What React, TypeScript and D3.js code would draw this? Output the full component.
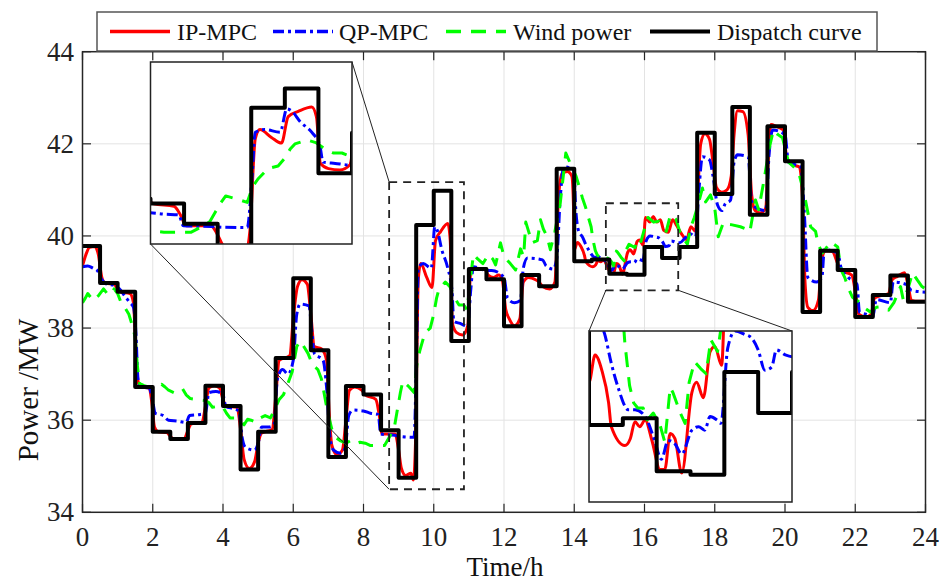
import React from 'react';
import * as d3 from 'd3';

const W = 941;
const H = 583;

const xTicks = [0, 2, 4, 6, 8, 10, 12, 14, 16, 18, 20, 22, 24];
const yTicks = [34, 36, 38, 40, 42, 44];
const legendLabels = ['IP-MPC', 'QP-MPC', 'Wind power', 'Dispatch curve'];

const dispatchTimes = [0, 0.5, 1, 1.5, 2, 2.5, 3, 3.5, 4, 4.5, 5, 5.5, 6, 6.5, 7, 7.5, 8, 8.5, 9, 9.5, 10, 10.5, 11, 11.5, 12, 12.5, 13, 13.5, 14, 14.5, 15, 15.5, 16, 16.5, 17, 17.5, 18, 18.5, 19, 19.5, 20, 20.5, 21, 21.5, 22, 22.5, 23, 23.5, 24];
const dispatchValues = [39.78, 38.98, 38.79, 36.72, 35.75, 35.59, 35.94, 36.75, 36.31, 34.93, 35.75, 37.35, 39.08, 37.52, 35.2, 36.74, 36.56, 35.78, 34.75, 40.24, 40.98, 37.72, 39.28, 39.06, 38.04, 39.15, 38.91, 41.46, 39.45, 39.49, 39.18, 39.16, 39.76, 39.52, 39.76, 42.24, 40.91, 42.8, 40.46, 42.38, 41.62, 38.35, 39.68, 39.26, 38.24, 38.72, 39.14, 38.57, 38.57];

const ipMpc: [number, number][] = [
  [0, 39.35], [0.1, 39.6], [0.2, 39.75], [0.35, 39.77], [0.45, 39.6], [0.55, 39.1], [0.65, 38.97], [0.9, 38.95], [1.0, 38.85], [1.1, 38.78], [1.35, 38.75], [1.45, 38.55], [1.52, 37.5], [1.58, 36.85], [1.65, 36.72], [1.9, 36.7],
  [1.97, 36.4], [2.05, 35.85], [2.15, 35.75], [2.4, 35.73], [2.5, 35.65], [2.6, 35.58], [2.9, 35.6], [3.0, 35.78], [3.1, 35.92], [3.4, 35.95], [3.5, 36.3], [3.6, 36.7], [3.75, 36.75], [3.9, 36.7], [4.0, 36.45], [4.1, 36.3],
  [4.4, 36.28], [4.5, 35.8], [4.6, 35.15], [4.75, 34.95], [4.9, 35.1], [5.0, 35.5], [5.1, 35.72], [5.4, 35.8], [5.5, 36.5], [5.6, 37.3], [5.9, 37.4], [6.0, 38.2], [6.12, 38.9], [6.25, 39.05], [6.4, 38.95], [6.5, 38.3],
  [6.6, 37.6], [6.8, 37.55], [6.95, 37.3], [7.02, 36.2], [7.1, 35.45], [7.25, 35.25], [7.4, 35.35], [7.5, 36.0], [7.6, 36.65], [7.75, 36.72], [7.95, 36.65], [8.05, 36.55], [8.35, 36.45], [8.45, 36.1], [8.53, 35.7], [8.9, 35.7],
  [9.0, 35.35], [9.08, 34.95], [9.2, 34.8], [9.35, 34.85], [9.42, 34.7], [9.48, 35.5], [9.56, 39.05], [9.63, 39.4], [9.8, 39.1], [9.95, 38.88], [10.05, 39.9], [10.2, 40.1], [10.4, 40.27], [10.47, 39.9], [10.53, 38.1], [10.65, 37.9],
  [10.82, 37.85], [10.97, 38.05], [11.05, 39.2], [11.15, 39.3], [11.45, 39.28], [11.55, 39.15], [11.7, 39.1], [11.85, 39.15], [11.95, 39.05], [12.05, 38.4], [12.15, 38.2], [12.3, 38.05], [12.45, 38.2], [12.55, 39.0], [12.7, 39.1], [12.9, 39.05],
  [13.0, 39.0], [13.1, 38.9], [13.3, 38.85], [13.45, 39.0], [13.55, 40.8], [13.65, 41.35], [13.8, 41.4], [13.93, 41.3], [13.98, 40.6], [14.0, 39.7], [14.09, 39.86], [14.19, 39.77], [14.29, 39.58], [14.33, 39.44], [14.53, 39.33], [14.61, 39.37],
  [14.68, 39.47], [14.75, 39.44], [14.83, 39.48], [14.93, 39.36], [15.05, 39.19], [15.12, 39.19], [15.2, 39.4], [15.27, 39.37], [15.37, 39.17], [15.52, 39.64], [15.59, 39.7], [15.69, 39.61], [15.79, 39.88], [15.86, 39.91], [15.96, 39.8], [16.03, 40.4],
  [16.15, 40.3], [16.25, 40.42], [16.35, 40.3], [16.45, 40.35], [16.55, 40.12], [16.68, 40.08], [16.8, 40.35], [16.92, 40.22], [17.05, 40.05], [17.2, 39.92], [17.32, 40.2], [17.45, 40.1], [17.52, 41.0], [17.6, 42.0], [17.72, 42.22], [17.85, 42.1],
  [17.95, 41.6], [18.05, 41.05], [18.2, 40.95], [18.35, 41.0], [18.47, 41.3], [18.55, 42.2], [18.65, 42.72], [18.8, 42.7], [18.95, 42.2], [19.05, 40.9], [19.15, 40.55], [19.3, 40.5], [19.45, 40.6], [19.52, 41.6], [19.6, 42.42], [19.75, 42.38],
  [19.95, 42.3], [20.05, 41.7], [20.2, 41.55], [20.4, 41.5], [20.5, 40.8], [20.57, 39.0], [20.65, 38.45], [20.8, 38.38], [20.95, 38.6], [21.05, 39.5], [21.15, 39.68], [21.35, 39.66], [21.5, 39.4], [21.6, 39.25], [21.9, 39.15], [22.02, 38.7],
  [22.1, 38.3], [22.3, 38.24], [22.45, 38.3], [22.55, 38.65], [22.7, 38.7], [22.95, 38.75], [23.05, 39.05], [23.2, 39.12], [23.4, 39.2], [23.5, 38.95], [23.6, 38.6], [23.8, 38.58], [24.0, 38.58],
];

const qpMpc: [number, number][] = [
  [0, 39.33], [0.15, 39.35], [0.3, 39.3], [0.42, 39.25], [0.55, 39.05], [0.7, 38.95], [0.9, 38.93], [1.05, 38.85], [1.2, 38.7], [1.35, 38.55], [1.45, 38.45], [1.52, 37.9], [1.58, 36.9], [1.65, 36.72], [1.9, 36.7], [2.0, 36.4],
  [2.07, 36.15], [2.3, 36.1], [2.45, 36.0], [2.7, 35.98], [2.95, 35.95], [3.05, 36.1], [3.3, 36.12], [3.5, 36.15], [3.6, 36.6], [3.8, 36.62], [4.0, 36.55], [4.08, 36.3], [4.3, 36.25], [4.45, 36.2], [4.55, 35.6], [4.65, 35.4],
  [4.9, 35.35], [5.0, 35.5], [5.1, 35.85], [5.3, 35.85], [5.45, 35.9], [5.55, 36.9], [5.7, 37.1], [5.85, 37.0], [6.0, 37.3], [6.1, 38.3], [6.2, 38.52], [6.45, 38.48], [6.52, 38.0], [6.6, 37.45], [6.85, 37.3], [6.95, 36.7],
  [7.05, 35.6], [7.15, 35.35], [7.35, 35.28], [7.48, 35.4], [7.58, 36.1], [7.7, 36.22], [8.0, 36.2], [8.2, 36.15], [8.42, 36.12], [8.49, 35.7], [8.9, 35.67], [9.0, 35.65], [9.44, 35.63], [9.51, 37.5], [9.56, 39.3], [9.7, 39.4],
  [9.93, 39.3], [10.03, 40.2], [10.1, 40.12], [10.23, 39.7], [10.4, 39.3], [10.52, 38.8], [10.57, 38.15], [10.75, 38.1], [10.97, 38.04], [11.05, 38.8], [11.13, 39.33], [11.5, 39.25], [11.65, 39.25], [12.0, 39.1], [12.1, 38.65], [12.3, 38.55],
  [12.47, 38.6], [12.55, 39.3], [12.67, 39.52], [13.1, 39.48], [13.2, 39.35], [13.4, 39.28], [13.5, 39.5], [13.6, 40.8], [13.7, 41.5], [13.98, 41.43], [14.05, 40.5], [14.12, 40.12], [14.24, 39.97], [14.33, 39.81], [14.43, 39.67], [14.58, 39.54],
  [14.68, 39.54], [14.83, 39.5], [14.97, 39.36], [15.07, 39.25], [15.17, 39.36], [15.27, 39.34], [15.37, 39.28], [15.52, 39.42], [15.62, 39.44], [15.71, 39.42], [15.79, 39.5], [15.89, 39.48], [15.95, 39.46], [16.05, 39.9], [16.16, 40.0], [16.3, 39.98],
  [16.4, 39.96], [16.5, 39.89], [16.6, 39.77], [16.7, 39.79], [16.77, 39.89], [16.9, 39.86], [17.0, 39.85], [17.15, 39.95], [17.3, 40.05], [17.45, 39.97], [17.55, 41.0], [17.65, 41.72], [17.85, 41.65], [17.95, 41.3], [18.08, 40.67], [18.2, 40.55],
  [18.3, 40.7], [18.45, 40.78], [18.55, 41.6], [18.65, 41.76], [18.95, 41.72], [19.05, 40.75], [19.2, 40.6], [19.45, 40.55], [19.55, 41.8], [19.65, 42.3], [20.0, 42.2], [20.1, 41.6], [20.45, 41.5], [20.55, 40.5], [20.65, 39.1], [20.9, 39.0],
  [21.05, 39.1], [21.12, 39.7], [21.5, 39.63], [21.6, 39.3], [21.8, 39.1], [22.05, 38.95], [22.12, 38.35], [22.3, 38.3], [22.5, 38.25], [22.6, 38.62], [23.0, 38.55], [23.08, 39.0], [23.45, 38.95], [23.6, 38.82], [24.0, 38.78],
];

const windPower: [number, number][] = [
  [0, 38.55], [0.08, 38.65], [0.15, 38.75], [0.22, 38.68], [0.3, 38.6], [0.45, 38.7], [0.6, 38.85], [0.7, 38.75], [0.8, 38.72], [0.9, 38.85], [1.0, 38.75], [1.1, 38.55], [1.2, 38.45], [1.32, 38.3], [1.42, 38.05], [1.5, 37.8],
  [1.56, 37.2], [1.62, 36.8], [1.75, 36.75], [1.88, 36.72], [2.0, 36.7], [2.13, 36.72], [2.25, 36.78], [2.35, 36.72], [2.45, 36.65], [2.6, 36.6], [2.75, 36.62], [2.85, 36.68], [2.95, 36.55], [3.07, 36.47], [3.25, 36.45], [3.47, 36.43],
  [3.6, 36.38], [3.7, 36.28], [3.85, 36.3], [4.0, 36.28], [4.1, 36.15], [4.2, 36.05], [4.35, 36.05], [4.45, 36.0], [4.6, 35.9], [4.7, 36.02], [4.8, 36.0], [4.95, 35.95], [5.07, 36.05], [5.2, 36.1], [5.35, 36.05], [5.45, 36.2],
  [5.6, 36.45], [5.72, 36.55], [5.85, 36.8], [5.97, 37.05], [6.1, 37.6], [6.2, 37.72], [6.3, 37.6], [6.42, 37.45], [6.55, 37.2], [6.7, 37.1], [6.8, 36.9], [6.9, 36.5], [6.97, 36.2], [7.1, 35.8], [7.2, 35.63], [7.35, 35.55],
  [7.5, 35.5], [7.62, 35.55], [7.75, 35.48], [7.9, 35.52], [8.05, 35.5], [8.2, 35.45], [8.4, 35.45], [8.6, 35.45], [8.75, 35.65], [8.88, 35.85], [8.97, 36.25], [9.05, 36.6], [9.12, 36.85], [9.3, 36.72], [9.44, 36.6], [9.52, 37.2],
  [9.6, 37.5], [9.75, 37.9], [9.9, 38.0], [10.0, 38.3], [10.08, 38.65], [10.15, 38.85], [10.33, 39.0], [10.46, 38.9], [10.6, 38.65], [10.72, 38.5], [10.85, 38.5], [10.95, 38.4], [11.05, 39.1], [11.13, 39.6], [11.25, 39.5], [11.4, 39.4],
  [11.56, 39.6], [11.68, 39.5], [11.76, 39.37], [11.9, 39.85], [12.0, 39.55], [12.18, 39.4], [12.33, 39.26], [12.47, 39.72], [12.56, 39.55], [12.62, 40.3], [12.7, 40.1], [12.8, 39.85], [12.95, 39.9], [13.04, 40.35], [13.12, 40.15], [13.23, 39.98],
  [13.32, 39.7], [13.45, 40.1], [13.6, 40.7], [13.76, 41.8], [13.9, 41.55], [14.05, 41.3], [14.15, 41.05], [14.23, 40.83], [14.32, 40.63], [14.4, 40.41], [14.48, 40.2], [14.53, 39.93], [14.6, 39.68], [14.66, 39.58], [14.72, 39.55], [14.8, 39.55],
  [14.86, 39.48], [14.95, 39.52], [15.05, 39.45], [15.12, 39.35], [15.2, 39.67], [15.24, 39.64], [15.35, 39.52], [15.42, 39.46], [15.48, 39.7], [15.56, 39.82], [15.65, 39.78], [15.73, 39.75], [15.8, 39.95], [15.9, 39.88], [16.0, 40.15], [16.1, 40.4],
  [16.26, 40.3], [16.4, 40.32], [16.5, 40.22], [16.62, 40.1], [16.74, 40.46], [16.9, 40.36], [17.0, 40.1], [17.1, 39.95], [17.22, 39.82], [17.32, 40.2], [17.42, 40.4], [17.55, 40.75], [17.65, 41.04], [17.74, 40.74], [17.88, 40.89], [18.0, 40.6],
  [18.1, 39.98], [18.25, 40.3], [18.4, 40.25], [18.5, 40.24], [18.73, 40.2], [18.9, 40.15], [19.0, 40.09], [19.16, 40.78], [19.25, 40.57], [19.4, 41.2], [19.55, 41.9], [19.67, 42.3], [19.8, 42.2], [19.93, 42.13], [20.1, 41.6], [20.25, 41.5],
  [20.4, 41.35], [20.55, 40.9], [20.73, 40.2], [20.87, 40.1], [20.95, 39.8], [21.07, 39.63], [21.3, 39.87], [21.5, 39.76], [21.6, 39.26], [21.7, 39.1], [21.8, 38.87], [21.92, 38.67], [22.05, 38.6], [22.15, 38.54], [22.3, 38.42], [22.43, 38.35],
  [22.6, 38.45], [22.72, 38.46], [22.85, 38.42], [22.95, 38.39], [23.1, 38.55], [23.29, 38.9], [23.37, 38.6], [23.5, 38.85], [23.63, 39.2], [23.77, 39.04], [23.9, 38.9], [24.0, 38.85],
];

// zoom windows (data coords) and their magnified views
const zoomRects = [
  { t0: 8.73, t1: 10.86, v0: 34.5, v1: 41.17 },
  { t0: 14.9, t1: 16.96, v0: 38.82, v1: 40.71 },
];
const insetDomains = [
  { t: [8, 11], v: [35, 42] },
  { t: [14, 17], v: [39, 40] },
];

const FONT = '"Liberation Serif", "Times New Roman", serif';

type Pt = [number, number];

const seriesStyles = [
  { key: 'ip', color: '#ff0000', width: 3, dash: undefined as string | undefined },
  { key: 'qp', color: '#0000ff', width: 3, dash: '11,4,3,4' },
  { key: 'wind', color: '#00ff00', width: 3, dash: '15,10' },
  { key: 'disp', color: '#000000', width: 4, dash: undefined as string | undefined },
];

export default function App() {
  const L = 82.5, R = 925.5, T = 51.7, B = 512.3;
  const x = d3.scaleLinear().domain([0, 24]).range([L, R]);
  const y = d3.scaleLinear().domain([34, 44]).range([B, T]);

  const dispatchPts: Pt[] = dispatchTimes.map((t, i) => [t, dispatchValues[i]]);
  const data: Pt[][] = [ipMpc, qpMpc, windPower, dispatchPts];

  const makePaths = (xs: d3.ScaleLinear<number, number>, ys: d3.ScaleLinear<number, number>) =>
    data.map((d, i) => {
      const curve = i === 3 ? d3.curveStepAfter : i === 2 ? d3.curveLinear : d3.curveMonotoneX;
      return d3.line<Pt>().x((p) => xs(p[0])).y((p) => ys(p[1])).curve(curve)(d) || '';
    });

  const mainPaths = makePaths(x, y);

  const insetBoxes = [
    { left: 150.5, top: 62, width: 201.5, height: 182 },
    { left: 589, top: 331, width: 203, height: 171 },
  ];

  const insets = insetBoxes.map((b, i) => {
    const xs = d3.scaleLinear().domain(insetDomains[i].t).range([b.left, b.left + b.width]);
    const ys = d3.scaleLinear().domain(insetDomains[i].v).range([b.top + b.height, b.top]);
    return { b, paths: makePaths(xs, ys) };
  });

  const rects = zoomRects.map((r) => ({
    x0: x(r.t0), x1: x(r.t1), y0: y(r.v1), y1: y(r.v0),
  }));

  // connector lines
  const connectors = [
    [insetBoxes[0].left + insetBoxes[0].width, insetBoxes[0].top, rects[0].x0, rects[0].y0],
    [insetBoxes[0].left, insetBoxes[0].top + insetBoxes[0].height, rects[0].x0, rects[0].y1],
    [rects[1].x0, rects[1].y1, insetBoxes[1].left, insetBoxes[1].top],
    [rects[1].x1, rects[1].y1, insetBoxes[1].left + insetBoxes[1].width, insetBoxes[1].top],
  ];

  const tickLen = 8.5;
  const axisColor = '#262626';

  const legendItems = [
    { x1: 110, x2: 170, tx: 177 },
    { x1: 273, x2: 333, tx: 339 },
    { x1: 446, x2: 506, tx: 513 },
    { x1: 650, x2: 710, tx: 717 },
  ];

  return (
    <svg width={W} height={H} style={{ position: 'absolute', left: 0, top: 0, background: '#fff' }} fontFamily={FONT}>
      <defs>
        <clipPath id="plotClip">
          <rect x={L} y={T} width={R - L} height={B - T} />
        </clipPath>
        {insetBoxes.map((b, i) => (
          <clipPath id={`insetClip${i}`} key={i}>
            <rect x={b.left} y={b.top} width={b.width} height={b.height} />
          </clipPath>
        ))}
      </defs>
      <rect x={0} y={0} width={W} height={H} fill="#fff" />
      {/* grid */}
      {xTicks.map((t) => (
        <line key={`gx${t}`} x1={x(t)} x2={x(t)} y1={T} y2={B} stroke="#e3e3e3" strokeWidth={1} />
      ))}
      {yTicks.map((v) => (
        <line key={`gy${v}`} x1={L} x2={R} y1={y(v)} y2={y(v)} stroke="#e3e3e3" strokeWidth={1} />
      ))}
      {/* series */}
      <g clipPath="url(#plotClip)">
        {mainPaths.map((p, i) => (
          <path key={i} d={p} fill="none" stroke={seriesStyles[i].color} strokeWidth={seriesStyles[i].width}
            strokeDasharray={seriesStyles[i].dash} strokeLinejoin="round" />
        ))}
      </g>
      {/* axes box */}
      <rect x={L} y={T} width={R - L} height={B - T} fill="none" stroke={axisColor} strokeWidth={1.5} />
      {xTicks.map((t) => (
        <g key={`tx${t}`}>
          <line x1={x(t)} x2={x(t)} y1={B} y2={B - tickLen} stroke={axisColor} strokeWidth={1.2} />
          <line x1={x(t)} x2={x(t)} y1={T} y2={T + tickLen} stroke={axisColor} strokeWidth={1.2} />
          <text x={x(t)} y={546} textAnchor="middle" fontSize={27} fill="#222">{t}</text>
        </g>
      ))}
      {yTicks.map((v) => (
        <g key={`ty${v}`}>
          <line x1={L} x2={L + tickLen} y1={y(v)} y2={y(v)} stroke={axisColor} strokeWidth={1.2} />
          <line x1={R} x2={R - tickLen} y1={y(v)} y2={y(v)} stroke={axisColor} strokeWidth={1.2} />
          <text x={74} y={y(v) + 9} textAnchor="end" fontSize={27} fill="#222">{v}</text>
        </g>
      ))}
      {/* zoom rectangles */}
      {rects.map((r, i) => (
        <rect key={`zr${i}`} x={r.x0} y={r.y0} width={r.x1 - r.x0} height={r.y1 - r.y0} fill="none"
          stroke="#222" strokeWidth={1.8} strokeDasharray="8,6" />
      ))}
      {connectors.map((c, i) => (
        <line key={`cn${i}`} x1={c[0]} y1={c[1]} x2={c[2]} y2={c[3]} stroke="#222" strokeWidth={1} />
      ))}
      {/* insets */}
      {insets.map(({ b, paths }, i) => (
        <g key={`in${i}`}>
          <rect x={b.left} y={b.top} width={b.width} height={b.height} fill="#fff" />
          <g clipPath={`url(#insetClip${i})`}>
            {paths.map((p, j) => (
              <path key={j} d={p} fill="none" stroke={seriesStyles[j].color} strokeWidth={seriesStyles[j].width}
                strokeDasharray={seriesStyles[j].dash} strokeLinejoin="round" />
            ))}
          </g>
          <rect x={b.left} y={b.top} width={b.width} height={b.height} fill="none" stroke="#222" strokeWidth={1.5} />
        </g>
      ))}
      {/* legend */}
      <rect x={97} y={12} width={780} height={39} fill="#fff" stroke="#555" strokeWidth={1.5} />
      {legendItems.map((it, i) => (
        <g key={`lg${i}`}>
          <line x1={it.x1} x2={it.x2} y1={31.5} y2={31.5} stroke={seriesStyles[i].color}
            strokeWidth={seriesStyles[i].width + (i === 3 ? 0 : 0.5)} strokeDasharray={seriesStyles[i].dash} />
          <text x={it.tx} y={40} fontSize={24} fill="#111">{legendLabels[i]}</text>
        </g>
      ))}
      {/* axis labels */}
      <text x={505} y={576} textAnchor="middle" fontSize={27} fill="#111">Time/h</text>
      <text transform="translate(38,390) rotate(-90)" textAnchor="middle" fontSize={29} fill="#111">Power /MW</text>
    </svg>
  );
}
